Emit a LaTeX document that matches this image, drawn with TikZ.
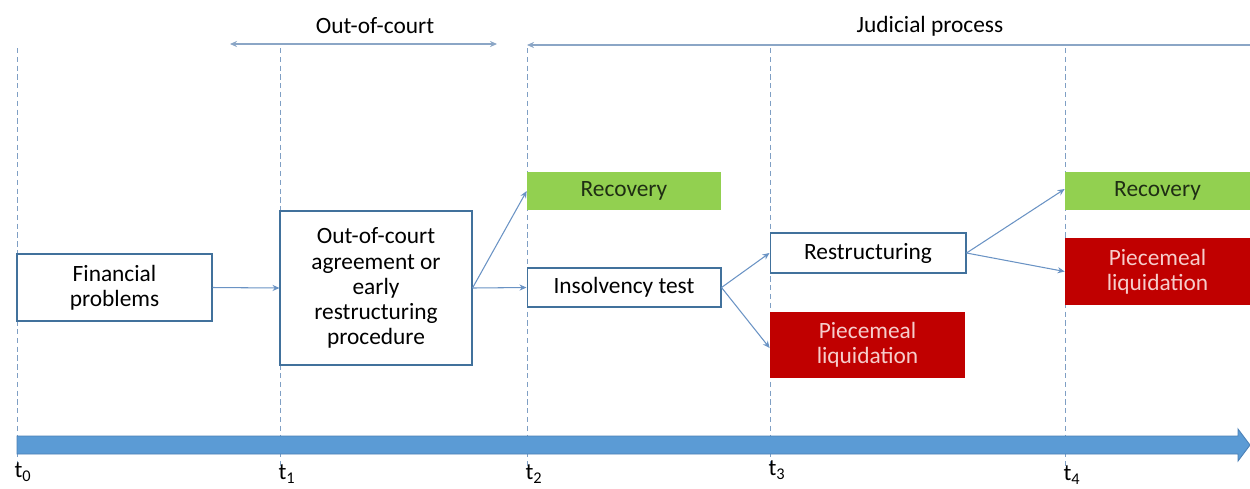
\documentclass[tikz,border=0pt]{standalone}
\usepackage{fontspec}
\setmainfont{Carlito}
\usetikzlibrary{arrows.meta}
\definecolor{boxline}{HTML}{41719C}
\definecolor{linkblue}{HTML}{6A93C4}
\definecolor{guide}{HTML}{7F9FC4}
\definecolor{spanline}{HTML}{8BA6C6}
\definecolor{axisblue}{HTML}{5B9BD5}
\definecolor{axisline}{HTML}{4A7FB5}
\definecolor{okgreen}{HTML}{92D050}
\definecolor{okgreentext}{HTML}{1F2E14}
\definecolor{liqred}{HTML}{C00000}
\definecolor{liqtext}{HTML}{F6CDCB}
\tikzset{
  stagebox/.style={draw=boxline,fill=white,line width=0.6pt,align=center,inner sep=2pt},
  goodbox/.style={fill=okgreen,text=okgreentext,align=center,inner sep=2pt},
  badbox/.style={fill=liqred,text=liqtext,align=center,inner sep=2pt},
  link/.style={draw=linkblue,line width=0.6pt,-{Stealth[length=4pt,width=3.5pt]}},
  guideline/.style={draw=guide,line width=0.5pt,dash pattern=on 3pt off 2pt},
  span/.style={draw=spanline,line width=0.8pt},
  tlabel/.style={inner sep=0pt,anchor=center}
}
\begin{document}
\begin{tikzpicture}[x=0.02cm,y=-0.02cm,font=\fontsize{13.3}{14.3}\selectfont]
\useasboundingbox (0,0) rectangle (1250,488);

% time guides
\foreach \tx/\tn in {17/0,280/1,527/2,770/3,1065/4}{
  \coordinate (top\tn) at (\tx,48);
  \coordinate (bot\tn) at (\tx,468);
  \draw[guideline] (top\tn) -- (bot\tn);
}

% boxes
\node[stagebox,minimum width=3.9cm,minimum height=1.34cm] (fin) at (114.5,287.5) {Financial\\problems};
\node[stagebox,minimum width=3.84cm,minimum height=3.08cm] (ooc) at (376,288) {Out-of-court\\agreement or\\early\\restructuring\\procedure};
\node[goodbox,minimum width=3.88cm,minimum height=0.76cm] (rec1) at (624,191) {Recovery};
\node[stagebox,minimum width=3.88cm,minimum height=0.78cm] (ins) at (624,287.5) {Insolvency test};
\node[stagebox,minimum width=3.92cm,minimum height=0.8cm] (res) at (868,253) {Restructuring};
\node[badbox,minimum width=3.9cm,minimum height=1.32cm] (liq1) at (867.5,345) {Piecemeal\\liquidation};
\node[goodbox,minimum width=3.7cm,minimum height=0.76cm] (rec2) at (1157.5,191) {Recovery};
\node[badbox,minimum width=3.7cm,minimum height=1.34cm] (liq2) at (1157.5,271.5) {Piecemeal\\liquidation};

% connectors
\draw[link] (fin.east) -- (ooc.west);
\draw[link] (ooc.east) -- (rec1.west);
\draw[link] (ooc.east) -- (ins.west);
\draw[link] (ins.east) -- (res.west);
\draw[link] (ins.east) -- ([yshift=-0.06cm]liq1.west);
\draw[link] (res.east) -- ([yshift=0.04cm]rec2.west);
\draw[link] (res.east) -- (liq2.west);

% phase spans
\coordinate (oocL) at (230,44);
\coordinate (oocR) at (497,44);
\coordinate (judL) at (527,45);
\coordinate (judR) at (1250,45);
\draw[span,{Stealth[length=4pt,width=3.5pt]}-{Stealth[length=4pt,width=3.5pt]}] (oocL) -- (oocR);
\draw[span,{Stealth[length=4pt,width=3.5pt]}-] (judL) -- (judR);
\node (ooctext) at (375,26) {Out-of-court};
\node (judtext) at (930,26) {Judicial process};

% time axis
\draw[fill=axisblue,draw=axisline,line width=0.5pt]
  (17,436) -- (1238,436) -- (1238,429) -- (1250,445) -- (1238,461) -- (1238,454) -- (17,454) -- cycle;

% time labels
\node[tlabel] (l0) at (23,472) {t\textsubscript{0}};
\node[tlabel] (l1) at (287,474) {t\textsubscript{1}};
\node[tlabel] (l2) at (534,474) {t\textsubscript{2}};
\node[tlabel] (l3) at (777,470) {t\textsubscript{3}};
\node[tlabel] (l4) at (1072,475) {t\textsubscript{4}};
\end{tikzpicture}
\end{document}
